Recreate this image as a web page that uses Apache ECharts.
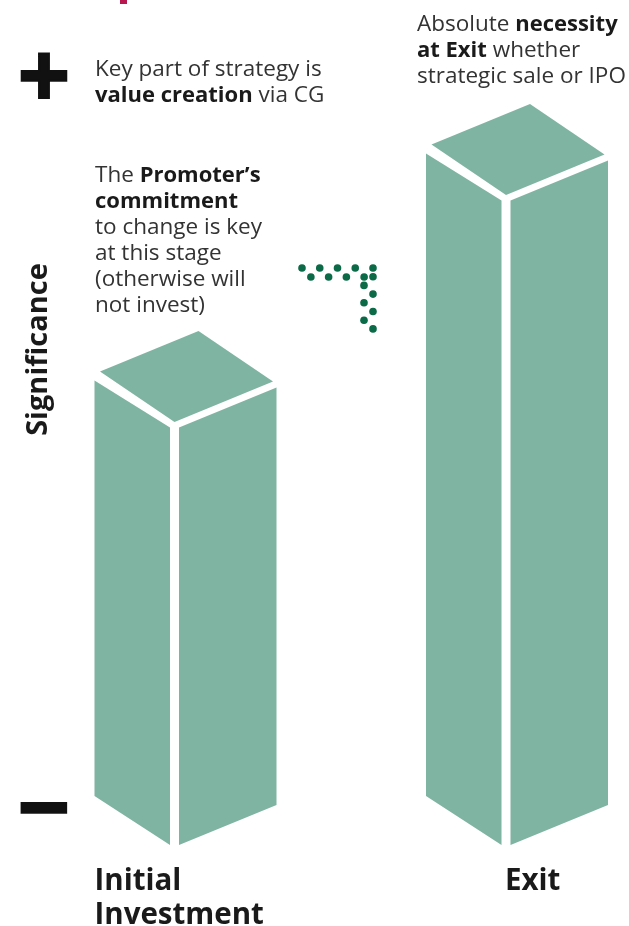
<!DOCTYPE html>
<html>
<head>
<meta charset="utf-8">
<script src="https://cdn.jsdelivr.net/npm/echarts@6/dist/echarts.min.js"></script>
<style>
  html, body { margin: 0; padding: 0; background: #fff; }
  #main { width: 629px; height: 926px; }
</style>
</head>
<body>
<div id="main"></div>
<script>
// data
const categories = ['Initial\nInvestment', 'Exit'];
const values = [52, 83];           // significance, front edge height
const yMin = -5, yMax = 100;
const tickValues = [0, 100];
const tickLabels = ['\u2212', '+'];

// looks
const barColor = '#80b4a2';
const dotColor = '#0b6a47';
const textDark = '#1a1a1a';
const textGrey = '#333333';
const labelDx = [-80, -1];          // where the category text starts, from the front edge

let myChart = echarts.init(document.getElementById('main'));

function renderPrism(params, api) {
    let i = api.value(0);
    let top = api.coord([i, api.value(1)]);
    let bottom = api.coord([i, yMin]);
    let fx = top[0], ty = top[1], by = bottom[1];
    let fill = {fill: barColor};
    return {
        type: 'group',
        children: [{
            type: 'polygon',   // left face
            shape: {points: [[fx - 80, ty - 47], [fx - 4.5, ty], [fx - 4.5, by], [fx - 80, by - 49]]},
            style: fill
        }, {
            type: 'polygon',   // right face
            shape: {points: [[fx + 4.5, ty], [fx + 102, ty - 40], [fx + 102, by - 40], [fx + 4.5, by]]},
            style: fill
        }, {
            type: 'polygon',   // top face
            shape: {points: [[fx, ty - 5.5], [fx - 74.5, ty - 56], [fx + 24, ty - 96.5], [fx + 98.5, ty - 46]]},
            style: fill
        }, {
            type: 'text',
            x: fx + labelDx[i],
            y: by + 20,
            style: {
                text: categories[i],
                font: 'bold 29.5px "Open Sans"',
                fill: textDark,
                lineHeight: 34
            }
        }]
    };
}

// dotted corner arrow between the bars
let dots = [];
for (let k = 0; k <= 8; k++) {
    dots.push({type: 'circle', shape: {cx: 302 + k * 8.875, cy: k % 2 ? 277 : 268, r: 3.8}, style: {fill: dotColor}});
}
for (let k = 1; k <= 7; k++) {
    dots.push({type: 'circle', shape: {cx: k % 2 ? 373 : 364, cy: 268 + k * 8.7, r: 3.8}, style: {fill: dotColor}});
}

let noteStyle = {
    font: '22.5px "Open Sans"',
    fill: textGrey,
    lineHeight: 26,
    rich: {
        b: {fontWeight: 'bold', fontSize: 22, fontFamily: 'Open Sans', fill: textDark, lineHeight: 26}
    }
};

let option = {
    animation: false,
    grid: {left: 174.5, right: 123, top: 76, bottom: 81, outerBoundsMode: 'none'},
    xAxis: {
        type: 'category',
        data: categories,
        boundaryGap: false,
        axisLine: {show: false},
        axisTick: {show: false},
        axisLabel: {show: false},
        splitLine: {show: false}
    },
    yAxis: {
        type: 'value',
        min: yMin,
        max: yMax,
        name: 'Significance',
        nameLocation: 'middle',
        nameRotate: 90,
        nameGap: 121,
        nameMoveOverlap: false,
        nameTextStyle: {
            fontFamily: 'Open Sans',
            fontWeight: 'bold',
            fontSize: 29,
            color: textDark,
            padding: [0, 0, 0, 222]
        },
        axisLine: {show: false},
        axisTick: {show: false},
        splitLine: {show: false},
        axisLabel: {
            customValues: tickValues,
            formatter: function (v) { return tickLabels[tickValues.indexOf(v)]; },
            fontFamily: 'DejaVu Sans',
            fontWeight: 'bold',
            fontSize: 68,
            color: '#111',
            textBorderColor: '#111',
            textBorderWidth: 4,
            verticalAlign: 'top',
            lineHeight: 6,
            margin: 102
        }
    },
    graphic: [
        {type: 'rect', shape: {x: 120, y: 0, width: 7, height: 4}, style: {fill: '#b8174f'}},
        {type: 'group', children: dots},
        {type: 'text', x: 95, y: 57, style: Object.assign({text: 'Key part of strategy is\n{b|value creation} via CG'}, noteStyle)},
        {type: 'text', x: 417, y: 12, style: Object.assign({text: 'Absolute {b|necessity}\n{b|at Exit} whether\nstrategic sale or IPO'}, noteStyle)},
        {type: 'text', x: 95, y: 163, style: Object.assign({text: 'The {b|Promoter\u2019s}\n{b|commitment}\nto change is key\nat this stage\n(otherwise will\nnot invest)'}, noteStyle)}
    ],
    series: [{
        type: 'custom',
        renderItem: renderPrism,
        data: categories.map(function (c, i) { return [i, values[i]]; })
    }]
};
myChart.setOption(option);
</script>
</body>
</html>
